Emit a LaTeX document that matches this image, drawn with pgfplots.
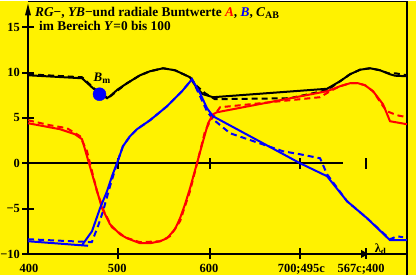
\documentclass[border=0pt]{standalone}
\usepackage{pgfplots}
\pgfplotsset{compat=1.18}
\usepackage{fontspec}
\setmainfont{Liberation Serif}
\begin{document}
\begin{tikzpicture}
\begin{axis}[
  width=416bp, height=274bp, scale only axis,
  xmin=369.06, xmax=828.7, ymin=-12.35, ymax=17.86,
  axis line style={draw=none}, ticks=none,
  axis background/.style={fill=yellow},
  clip=false,
]
% frame and axes
\draw[line width=1.2bp] (rel axis cs:0.0673,0.9978) -- (rel axis cs:0.9784,0.9978);
\draw[line width=2.5bp] (rel axis cs:0.9784,0) -- (rel axis cs:0.9784,1);
\draw[line width=2.4bp] (axis cs:400,-10) -- (axis cs:818.8,-10);
\draw[line width=2.4bp] (axis cs:400,-10) -- (axis cs:400,16.9);
\fill (axis cs:400,17.6) -- (axis cs:396.7,16.3) -- (axis cs:403.3,16.3) -- cycle;
\fill (axis cs:776,-10) -- (axis cs:768,-9.55) -- (axis cs:768,-10.45) -- cycle;
% y ticks
\pgfplotsinvokeforeach{15,10,5,0,-5,-10}{
  \draw[line width=2bp] (axis cs:393.4,#1) -- (axis cs:406.6,#1);
}
% x ticks on bottom and on zero line
\pgfplotsinvokeforeach{499.4,601.1,700.6,773.5}{
  \draw[line width=2bp] (axis cs:#1,-9.4) -- (axis cs:#1,-10.6);
  \draw[line width=2bp] (axis cs:#1,0.55) -- (axis cs:#1,-0.6);
}
% zero line
\draw[line width=1.6bp] (axis cs:400,0) -- (axis cs:748,0);
% tick labels
\begin{scope}[every node/.style={font=\fontsize{12.5}{14}\selectfont\bfseries, inner sep=0pt}]
\node[anchor=east] at (axis cs:391.2,15) {15};
\node[anchor=east] at (axis cs:391.2,10) {10};
\node[anchor=east] at (axis cs:391.2,5) {5};
\node[anchor=east] at (axis cs:391.2,0) {0};
\node[anchor=east] at (axis cs:391.2,-5) {−5};
\node[anchor=east] at (axis cs:391.2,-10) {−10};
\node[anchor=base] at (axis cs:401,-12.02) {400};
\node[anchor=base] at (axis cs:498.5,-12.02) {500};
\node[anchor=base] at (axis cs:600,-12.02) {600};
\node[anchor=base] at (axis cs:702,-12.02) {700;495c};
\node[anchor=base] at (axis cs:768,-12.02) {567c;400};
\node[anchor=base west] at (axis cs:783,-9.8) {λ\raisebox{-0.35ex}{\fontsize{9}{9}\selectfont d}};
\end{scope}
% title
\node[anchor=base west, inner sep=0pt, text depth=0pt, font=\fontsize{13.4}{15}\selectfont\bfseries] at (rel axis cs:0.0841,0.9434)
 {\itshape RG\upshape−, \itshape YB\upshape−und radiale Buntwerte {\color{red}\itshape A}, {\color{blue}\itshape B}, \itshape C\upshape\raisebox{-0.35ex}{\fontsize{10}{10}\selectfont AB}};
\node[anchor=base west, inner sep=0pt, text height=8.5bp, font=\fontsize{13.4}{15}\selectfont\bfseries] at (rel axis cs:0.0938,0.8942)
 {im Bereich \textit{Y}=0 bis 100};
% dashed series
\addplot[black, line width=2bp, dash pattern=on 6bp off 4bp] coordinates {
(400,9.81)(459.7,9.48)(474,8.16)(488.4,7.17)(499.4,8.05)(509.4,8.82)(523.8,9.70)(534.8,10.14)(549.2,10.47)(562.4,10.25)(579,9.48)(586.7,8.49)(595.6,7.72)(606.6,7.06)(689.5,7.17)(730.4,8.05)(744.8,9.04)(755.8,9.81)(766.9,10.31)(777.9,10.47)(789,10.25)(798,9.92)(805.5,9.92)(818.8,9.70)};
\addplot[red, line width=2bp, dash pattern=on 6bp off 4bp] coordinates {
(400,4.74)(424.3,4.19)(443.1,3.86)(457.5,2.98)(465.2,1.32)(476.2,-3.09)(483.9,-5.29)(492.8,-7.06)(507.2,-8.16)(523.8,-8.71)(545.9,-8.60)(556.9,-8.05)(568.0,-6.39)(579.0,-3.09)(590.1,1.32)(595.6,3.53)(601.1,4.63)(612.2,6.17)(722.7,7.28)(733.7,7.94)(744.8,8.49)(755.8,8.82)(764.6,8.82)(772.4,8.60)(781.2,7.94)(792.3,6.28)(796.7,5.73)(807.8,5.29)(818.8,5.07)};
\addplot[blue, line width=2bp, dash pattern=on 6bp off 4bp] coordinates {
(400,-8.38)(470.5,-8.7)(477.3,-6.95)(482.9,-5.29)(490.6,-2.54)(498.3,0)(504.9,1.87)(512.7,2.98)(520.4,3.75)(534.8,4.74)(553.6,6.28)(570.2,7.94)(581.2,9.26)(590.1,7.39)(597.8,5.73)(604.4,4.85)(623.2,3.31)(681.8,1.32)(700.6,0.99)(722.7,0.55)(730.4,-1.21)(752.5,-4.19)(774.6,-6.06)(800,-8.38)(807.8,-8.05)(814.4,-8.16)};
% solid series
\addplot[black, line width=2bp] coordinates {
(400,9.70)(459.7,9.37)(471.8,8.27)(479.6,7.72)(487.3,7.17)(490.6,7.39)(499.4,8.16)(509.4,8.82)(523.8,9.70)(534.8,10.14)(549.2,10.47)(562.4,10.25)(579.0,9.48)(586.7,8.27)(593.4,7.61)(604.4,7.28)(730.4,8.21)(744.8,9.04)(755.8,9.81)(766.9,10.31)(777.9,10.47)(789.0,10.25)(800.0,9.81)(805.5,9.65)(818.8,9.59)};
\addplot[red, line width=2bp] coordinates {
(400,4.41)(435.4,3.75)(451.9,3.20)(459.7,2.65)(481.8,-4.96)(490.6,-6.73)(501.7,-7.83)(509.4,-8.27)(523.8,-8.82)(534.8,-8.82)(545.9,-8.60)(553.6,-8.27)(562.4,-7.28)(568.0,-6.06)(573.5,-4.52)(579.0,-2.76)(586.7,0)(593.4,2.43)(599.0,4.41)(604.4,5.40)(608.8,5.62)(730.4,7.94)(744.8,8.49)(755.8,8.82)(764.6,8.82)(772.4,8.60)(781.2,7.94)(792.3,6.50)(800.0,4.63)(818.8,4.30)};
\addplot[blue, line width=2bp] coordinates {
(400,-8.60)(466.3,-9.10)};
\addplot[blue, line width=2bp] coordinates {
(459.7,-9.04)(470.7,-7.50)(479.6,-4.96)(487.3,-3.09)(492.8,-1.43)(498.3,0)(504.9,1.87)(512.7,2.98)(520.4,3.75)(534.8,4.74)(553.6,6.28)(570.2,7.94)(581.2,9.26)(590.1,7.72)(597.8,6.06)(604.4,5.18)(700.6,0)(730.4,-1.43)(752.5,-4.19)(774.6,-6.06)(800.0,-8.49)(818.8,-8.49)};
% B_m point
\addplot[only marks, mark=*, mark size=6.5bp, blue, mark options={draw=blue, fill=blue}] coordinates {(479.0,7.61)};
\node[anchor=base, inner sep=0pt, font=\fontsize{13}{15}\selectfont\bfseries] at (rel axis cs:0.2452,0.7080) {\textit{B}\raisebox{-0.35ex}{\fontsize{9.5}{10}\selectfont m}};
\end{axis}
\end{tikzpicture}
\end{document}
